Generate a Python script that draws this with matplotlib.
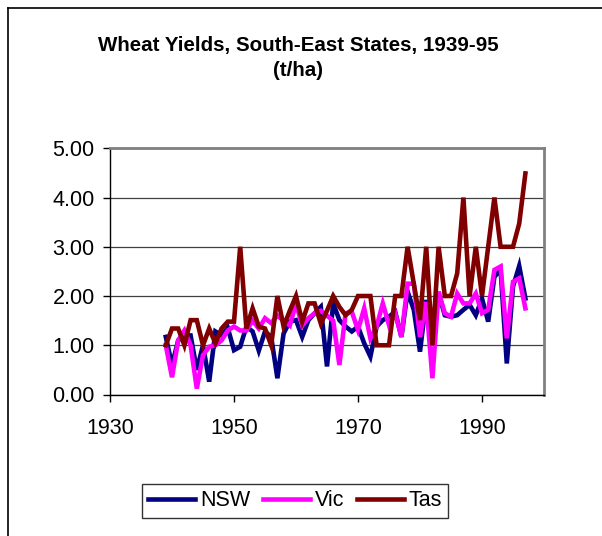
import matplotlib
matplotlib.use("Agg")
import matplotlib.pyplot as plt
from matplotlib.lines import Line2D

years = list(range(1939, 1998))

nsw = [1.17, 0.60, 1.10, 1.20, 1.20, 0.50, 1.00, 0.26, 1.28, 1.20,
       1.35, 0.90, 0.97, 1.38, 1.28, 0.89, 1.28, 1.17, 0.33, 1.24,
       1.48, 1.51, 1.17, 1.51, 1.65, 1.78, 0.57, 1.85, 1.51, 1.38,
       1.28, 1.38, 1.04, 0.77, 1.38, 1.51, 1.58, 1.68, 1.17, 2.09,
       1.72, 0.87, 1.92, 1.04, 2.05, 1.61, 1.58, 1.61, 1.72, 1.82,
       1.61, 1.95, 1.48, 2.39, 2.53, 0.63, 2.19, 2.61, 1.95]

vic = [1.00, 0.35, 1.10, 1.30, 1.00, 0.12, 0.80, 0.97, 1.00, 1.10,
       1.30, 1.38, 1.30, 1.30, 1.50, 1.34, 1.55, 1.45, 1.60, 1.50,
       1.40, 1.85, 1.40, 1.55, 1.65, 1.70, 1.60, 1.50, 0.60, 1.65,
       1.68, 1.31, 1.75, 1.14, 1.38, 1.85, 1.41, 1.65, 1.17, 2.25,
       2.25, 1.17, 1.88, 0.33, 2.09, 1.65, 1.58, 2.05, 1.85, 1.85,
       2.05, 1.65, 1.72, 2.53, 2.60, 1.14, 2.29, 2.36, 1.75]

tas = [1.00, 1.34, 1.34, 1.00, 1.51, 1.51, 1.00, 1.34, 1.04, 1.34,
       1.48, 1.48, 3.00, 1.34, 1.75, 1.38, 1.34, 1.00, 2.00, 1.38,
       1.70, 2.00, 1.48, 1.85, 1.85, 1.44, 1.70, 2.00, 1.78, 1.61,
       1.72, 2.00, 2.00, 2.00, 1.00, 1.00, 1.00, 2.00, 2.00, 3.00,
       2.25, 1.51, 3.00, 1.00, 3.00, 2.00, 2.00, 2.46, 4.00, 2.00,
       3.00, 2.00, 3.00, 4.00, 3.00, 3.00, 3.00, 3.47, 4.49]

series_names = ["NSW", "Vic", "Tas"]
series_colors = ["#000080", "#FF00FF", "#800000"]
x_ticks = [1930, 1950, 1970, 1990]
y_ticks = [0, 1, 2, 3, 4, 5]

W, H = 602, 536
fig = plt.figure(figsize=(W / 100, H / 100), dpi=100)
plt.rcParams['font.family'] = ['Liberation Sans', 'DejaVu Sans']

# outer chart border (left and top)
fig.add_artist(Line2D([7.5 / W, 7.5 / W], [0, 1 - 8 / H], transform=fig.transFigure,
                      color='black', lw=1.2))
fig.add_artist(Line2D([7.5 / W, 1], [1 - 8 / H, 1 - 8 / H], transform=fig.transFigure,
                      color='black', lw=1.2))

left, right, top, bottom = 110, 544, 148.3, 394.5
ax = fig.add_axes([left / W, 1 - bottom / H, (right - left) / W, (bottom - top) / H])

for vals, name, col in zip([nsw, vic, tas], series_names, series_colors):
    ax.plot(years, vals, color=col, lw=3.3, label=name, solid_joinstyle='miter')

ax.set_xlim(1930, 2000)
ax.set_ylim(0, 5)
ax.set_xticks(x_ticks)
ax.set_yticks(y_ticks)
ax.set_yticklabels([f"{v:.2f}" for v in y_ticks])
ax.tick_params(axis='both', direction='out', length=5, width=1, labelsize=15.5, colors='black')
ax.tick_params(axis='x', pad=12)
ax.tick_params(axis='y', pad=6)
ax.grid(axis='y', color='#404040', lw=0.9)
ax.set_axisbelow(True)
for s in ['top', 'right']:
    ax.spines[s].set_color('#808080')
    ax.spines[s].set_linewidth(2)
for s in ['left', 'bottom']:
    ax.spines[s].set_color('black')
    ax.spines[s].set_linewidth(1)

fig.text(298 / W, 1 - 45 / H, "Wheat Yields, South-East States, 1939-95", ha='center', va='center',
         fontsize=14.8, fontweight='bold')
fig.text(298 / W, 1 - 71 / H, "(t/ha)", ha='center', va='center', fontsize=14.8, fontweight='bold')

leg = fig.legend(loc='center', bbox_to_anchor=(295 / W, 1 - 501 / H), ncol=3, fontsize=15.5,
                 frameon=True, fancybox=False, handlelength=2.2, handletextpad=0.2,
                 columnspacing=0.6, borderpad=0.3)
leg.get_frame().set_edgecolor('black')
leg.get_frame().set_linewidth(1)

fig.savefig("out.png", dpi=100)
